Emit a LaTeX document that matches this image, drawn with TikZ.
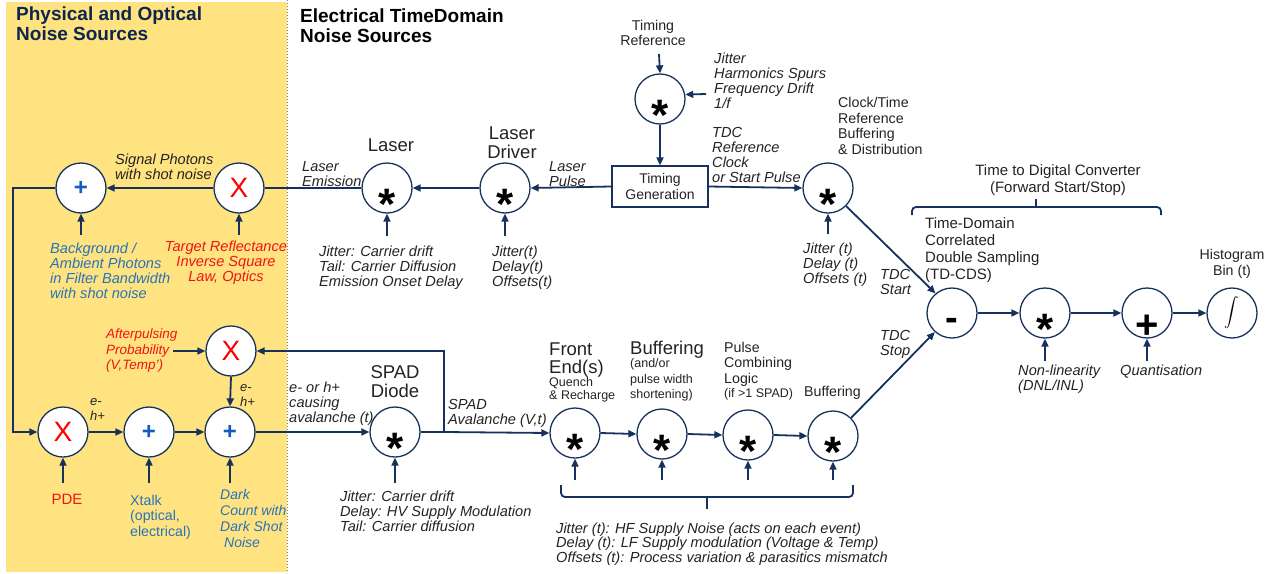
\documentclass[tikz,border=0pt]{standalone}
\usepackage{fontspec}
\setmainfont{Liberation Sans}
\usetikzlibrary{arrows.meta}
\definecolor{navy}{RGB}{22,50,92}
\definecolor{titlenavy}{RGB}{14,38,78}
\definecolor{zone}{RGB}{255,227,128}
\definecolor{xred}{RGB}{255,0,0}
\definecolor{txtred}{RGB}{240,20,20}
\definecolor{xblue}{RGB}{22,92,190}
\definecolor{txtblue}{RGB}{40,115,185}
\definecolor{ink}{RGB}{35,35,35}
\begin{document}
\begin{tikzpicture}[x=1pt,y=-1pt,
  circ/.style={circle, draw=navy, line width=1.3pt, fill=white, minimum size=50pt, inner sep=0pt},
  sstar/.style={circ, label={[font=\fontsize{44}{44}\selectfont\bfseries, inner sep=0pt, yshift=-16pt]center:*}},
  smult/.style={circ, label={[font=\fontsize{28}{28}\selectfont, text=xred, inner sep=0pt]center:X}},
  sadd/.style={circ, label={[font=\fontsize{24}{24}\selectfont\bfseries, text=xblue, inner sep=0pt]center:+}},
  sminus/.style={circ, label={[font=\fontsize{38}{38}\selectfont\bfseries, inner sep=0pt, yshift=-11pt]center:-}},
  splus/.style={circ, label={[font=\fontsize{40}{40}\selectfont\bfseries, inner sep=0pt, yshift=-14pt]center:+}},
  sint/.style={circ, label={[inner sep=0pt]center:{\scalebox{1.45}{$\displaystyle\int$}}}},
  genbox/.style={rectangle, draw=navy, line width=1.2pt, fill=white, minimum width=96pt, minimum height=41pt,
    align=center, font=\fontsize{14}{16}\selectfont, text=ink, inner sep=0pt},
  ln/.style={draw=navy, line width=1.8pt},
  arr/.style={ln, -{Triangle[length=8pt,width=7pt]}},
  it/.style={font=\fontsize{14.6}{15}\selectfont\itshape, text=ink, inner sep=0pt, align=left, anchor=west},
  rm/.style={font=\fontsize{14.2}{15.5}\selectfont, text=ink, inner sep=0pt, align=left, anchor=west},
  big/.style={font=\fontsize{18.5}{19}\selectfont, text=ink, inner sep=0pt, align=left, anchor=west},
  small/.style={font=\fontsize{12.5}{13.5}\selectfont, text=ink, inner sep=0pt, align=left, anchor=west},
  title/.style={font=\fontsize{19}{20}\selectfont\bfseries, inner sep=0pt, align=left, anchor=west},
  brace/.style={draw=navy, line width=1.8pt, rounded corners=4pt}
]
\useasboundingbox (0,0) rectangle (1274,573);

% physical / optical zone
\fill[zone] (6,2) rectangle (287,572);
\draw[gray, dotted, line width=1pt] (287,0) -- (287,573);

\node[title, text=titlenavy] (t-phys) at (16,24) {Physical and Optical\\Noise Sources};
\node[title, text=black] (t-elec) at (300,26) {Electrical TimeDomain\\Noise Sources};

% ---------- operator nodes ----------
\node[sadd]  (sum1)  at (81,188)  {};
\node[smult] (tgt)   at (239,188) {};
\node[sstar] (laser) at (387,188) {};
\node[sstar] (drv)   at (505,188) {};
\node[genbox] (tg)   at (660,186.5) {Timing\\Generation};
\node[sstar] (tref)  at (660,99)  {};
\node[sstar] (clk)   at (828,188) {};

\node[sminus] (cds)  at (952,313)  {};
\node[sstar]  (nl)   at (1045,313) {};
\node[splus]  (qz)   at (1147,313) {};
\node[sint]   (hist) at (1232,313) {};

\node[smult] (pde)  at (63,432)  {};
\node[sadd]  (xt)   at (149,432) {};
\node[sadd]  (dark) at (230,432) {};
\node[smult] (ap)   at (231,351) {};
\node[sstar] (spad) at (395,432) {};
\node[sstar] (fe)   at (575,433) {};
\node[sstar] (bf1)  at (662,434) {};
\node[sstar] (pcl)  at (748,435) {};
\node[sstar] (bf2)  at (833,436) {};

% ---------- free ends of the input arrows ----------
\coordinate (in-sum1)  at (81,235);
\coordinate (in-tgt)   at (239,235);
\coordinate (in-laser) at (387,236);
\coordinate (in-drv)   at (505,236);
\coordinate (in-clk)   at (828,234);
\coordinate (in-tref)  at (659,54);
\coordinate (in-trefn) at (706,94);
\coordinate (in-nl)    at (1045,361);
\coordinate (in-qz)    at (1147,361);
\coordinate (in-pde)   at (63,483);
\coordinate (in-xt)    at (149,483);
\coordinate (in-dark)  at (230,483);
\coordinate (in-ap)    at (173,351);
\coordinate (in-spad)  at (395,483);
\coordinate (in-fe)    at (575,480);
\coordinate (in-bf1)   at (662,480);
\coordinate (in-pcl)   at (748,480);
\coordinate (in-bf2)   at (833,480);
\coordinate (loop)     at (13,432);
\coordinate (jn)       at (444,432);

% ---------- connectors ----------
\draw[arr] (tgt.west) -- (sum1.east);
\draw[ln]  (laser.west) -- (tgt.east);
\draw[arr] (drv.west) -- (laser.east);
\draw[arr] (tg.west) -- (drv.east);
\draw[arr] (in-tref) -- (tref.north);
\draw[arr] (tref.south) -- (tg.north);
\draw[arr] (in-trefn) -- (tref.10);
\draw[arr] (tg.east) -- (clk.west);
\draw[arr] (clk.-45) -- (cds.130);
\draw[arr] (bf2.45) -- (cds.228);
\draw[arr] (cds.east) -- (nl.west);
\draw[arr] (nl.east) -- (qz.west);
\draw[arr] (qz.east) -- (hist.west);

\draw[arr] (sum1.west) -| (loop) -- (pde.west);
\draw[arr] (pde.east) -- (xt.west);
\draw[arr] (xt.east) -- (dark.west);
\draw[arr] (ap.south) -- (dark.north);
\draw[arr] (in-ap) -- (ap.west);
\draw[arr] (dark.east) -- (spad.west);
\draw[ln]  (spad.east) -- (jn);
\draw[arr] (jn) -- (fe.west);
\draw[arr] (jn) |- (ap.east);
\draw[arr] (fe.east) -- (bf1.west);
\draw[arr] (bf1.east) -- (pcl.west);
\draw[arr] (pcl.east) -- (bf2.west);

\foreach \n in {sum1,tgt,laser,drv,clk,nl,qz,pde,xt,dark,spad,fe,bf1,pcl,bf2}
  \draw[arr] (in-\n) -- (\n.south);

% ---------- braces ----------
\draw[brace] (912,215) -- (912,207) -- (1161,207) -- (1161,215);
\draw[ln] (1036,208) -- (1036,199);
\draw[brace] (561,485) -- (561,497) -- (853,497) -- (853,485);
\draw[ln] (707,496) -- (707,509);

% ---------- labels ----------
\node[it] (l-sig) at (115,167) {Signal Photons\\with shot noise};
\node[it, text=txtblue] (l-bg) at (50,271) {Background /\\Ambient Photons\\in Filter Bandwidth\\with shot noise};
\node[it, text=txtred, align=center, anchor=center] (l-tgt) at (226,263) {Target Reflectance\\Inverse Square\\Law, Optics};
\node[it] (l-emis) at (302,174) {Laser\\Emission};
\node[big, anchor=center] (l-laser) at (391,145) {Laser};
\node[big, align=center, anchor=center] (l-drv) at (512,143) {Laser\\Driver};
\node[it] (l-lasn) at (319,268) {Jitter: Carrier drift\\Tail: Carrier Diffusion\\Emission Onset Delay};
\node[it] (l-drvn) at (492,268) {Jitter(t)\\Delay(t)\\Offsets(t)};
\node[it] (l-pulse) at (549,174) {Laser\\Pulse};
\node[rm, align=center, anchor=center] (l-tref) at (653,33) {Timing\\Reference};
\node[it] (l-trefn) at (714,81) {Jitter\\Harmonics Spurs\\Frequency Drift\\1/f};
\node[it] (l-tdcref) at (712,155) {TDC\\Reference\\Clock\\or Start Pulse};
\node[rm] (l-clk) at (838,126) {Clock/Time\\Reference\\Buffering\\\& Distribution};
\node[it] (l-clkn) at (803,265) {Jitter (t)\\Delay (t)\\Offsets (t)};
\node[it] (l-start) at (880,282) {TDC\\Start};
\node[it] (l-stop) at (880,344) {TDC\\Stop};
\node[rm, font=\fontsize{15}{17}\selectfont, align=center, anchor=center] (l-tdc) at (1058,180) {Time to Digital Converter\\(Forward Start/Stop)};
\node[rm, font=\fontsize{15}{17}\selectfont] (l-cds) at (925,250) {Time-Domain\\Correlated\\Double Sampling\\(TD-CDS)};
\node[rm, align=center, anchor=center] (l-hist) at (1232,264) {Histogram\\Bin (t)};
\node[it] (l-nl) at (1018,379) {Non-linearity\\(DNL/INL)};
\node[it] (l-qz) at (1120,372) {Quantisation};

\node[it, font=\fontsize{13.5}{15.5}\selectfont\itshape, text=txtred] (l-ap) at (106,351) {Afterpulsing\\Probability\\(V,Temp’)};
\node[it, font=\fontsize{13}{15}\selectfont\itshape] (l-eh1) at (90,409) {e-\\h+};
\node[it, font=\fontsize{13}{15}\selectfont\itshape] (l-eh2) at (240,395) {e-\\h+};
\node[rm, font=\fontsize{15}{17}\selectfont, text=txtred, anchor=center] (l-pde) at (67,499) {PDE};
\node[rm, text=txtblue] (l-xt) at (130,517) {Xtalk\\(optical,\\electrical)};
\node[it, font=\fontsize{14}{16}\selectfont\itshape, text=txtblue] (l-dark) at (220,518) {Dark\\Count with\\Dark Shot\\\hspace*{4pt}Noise};
\node[it] (l-carrier) at (289,404) {e- or h+\\causing\\avalanche (t)};
\node[big, align=center, anchor=center] (l-spad) at (395,382) {SPAD\\Diode};
\node[it] (l-spadn) at (340,511) {Jitter: Carrier drift\\Delay: HV Supply Modulation\\Tail: Carrier diffusion};
\node[it] (l-aval) at (448,413) {SPAD\\Avalanche (V,t)};
\node[big, font=\fontsize{18.5}{18}\selectfont] (l-fe) at (549,360) {Front\\End(s)};
\node[small] (l-fen) at (549,390) {Quench\\\& Recharge};
\node[big] (l-bf1) at (630,350) {Buffering};
\node[small, font=\fontsize{12.5}{15.5}\selectfont] (l-bf1n) at (630,380) {(and/or\\pulse width\\shortening)};
\node[rm] (l-pcl) at (724,364) {Pulse\\Combining\\Logic};
\node[small] (l-pcln) at (724,394) {(if >1 SPAD)};
\node[rm] (l-bf2) at (804,393) {Buffering};
\node[it, font=\fontsize{14.6}{14.5}\selectfont\itshape] (l-supply) at (556,544) {Jitter (t): HF Supply Noise (acts on each event)\\Delay (t): LF Supply modulation (Voltage \& Temp)\\Offsets (t): Process variation \& parasitics mismatch};
\end{tikzpicture}
\end{document}
